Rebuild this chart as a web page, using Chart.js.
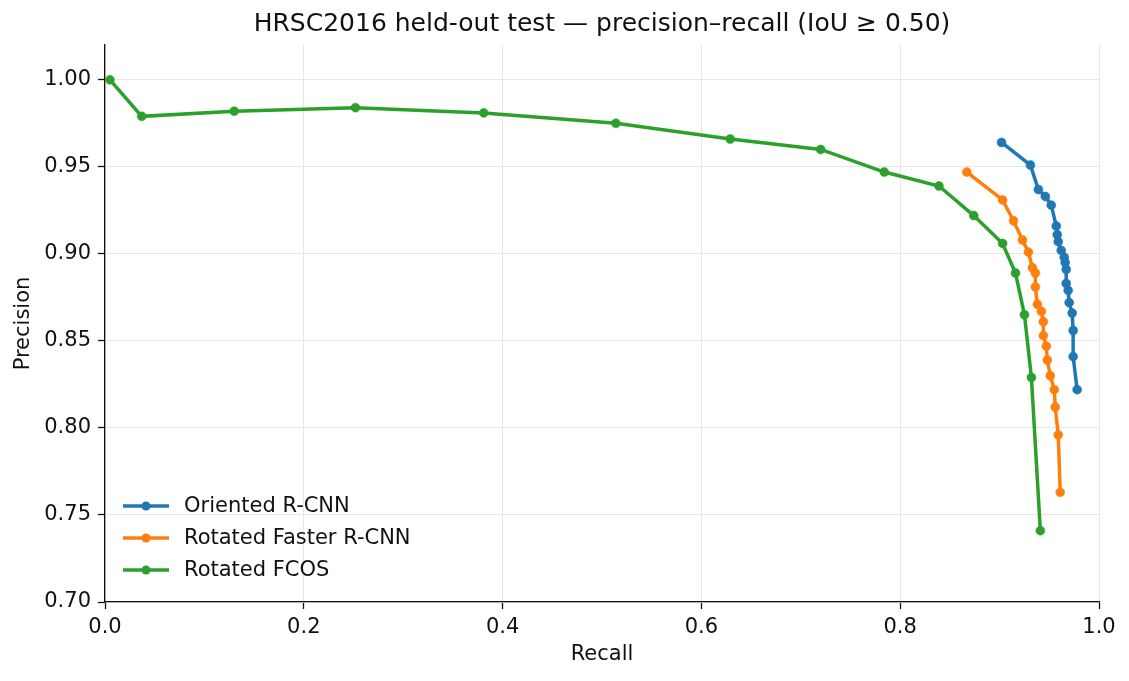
<!DOCTYPE html>
<html>
<head>
<meta charset="utf-8">
<script src="https://cdn.jsdelivr.net/npm/chart.js@4.4.1/dist/chart.umd.min.js"></script>
<style>
  html, body { margin: 0; padding: 0; background: #fff; }
  #wrap { width: 1129px; height: 681px; }
</style>
</head>
<body>
<div id="wrap"><canvas id="prChart"></canvas></div>
<script>
// PR curves
const orientedRecall    = [0.902, 0.931, 0.939, 0.946, 0.952, 0.957, 0.958, 0.959, 0.962, 0.965, 0.966, 0.967, 0.967, 0.969, 0.970, 0.973, 0.974, 0.974, 0.978];
const orientedPrecision = [0.964, 0.951, 0.937, 0.933, 0.928, 0.916, 0.911, 0.907, 0.902, 0.898, 0.895, 0.891, 0.883, 0.879, 0.872, 0.866, 0.856, 0.841, 0.822];

const fasterRecall    = [0.867, 0.903, 0.914, 0.923, 0.929, 0.933, 0.936, 0.936, 0.938, 0.942, 0.944, 0.944, 0.947, 0.948, 0.951, 0.955, 0.956, 0.959, 0.961];
const fasterPrecision = [0.947, 0.931, 0.919, 0.908, 0.901, 0.892, 0.889, 0.881, 0.871, 0.867, 0.861, 0.853, 0.847, 0.839, 0.830, 0.822, 0.812, 0.796, 0.763];

const fcosRecall    = [0.005, 0.037, 0.130, 0.252, 0.381, 0.514, 0.629, 0.720, 0.784, 0.839, 0.874, 0.903, 0.916, 0.925, 0.932, 0.941];
const fcosPrecision = [1.000, 0.979, 0.982, 0.984, 0.981, 0.975, 0.966, 0.960, 0.947, 0.939, 0.922, 0.906, 0.889, 0.865, 0.829, 0.741];

const seriesNames = ['Oriented R-CNN', 'Rotated Faster R-CNN', 'Rotated FCOS'];
const seriesColors = ['#1f77b4', '#ff7f0e', '#2ca02c'];
const xTicks = [0.0, 0.2, 0.4, 0.6, 0.8, 1.0];
const yTicks = [0.70, 0.75, 0.80, 0.85, 0.90, 0.95, 1.00];

const FONT = 'DejaVu Sans';
const INK = '#111111';

function toPoints(xs, ys) {
    return xs.map((x, i) => ({ x: x, y: ys[i] }));
}

function makeSet(i, xs, ys) {
    return {
        label: seriesNames[i],
        data: toPoints(xs, ys),
        showLine: true,
        borderColor: seriesColors[i],
        backgroundColor: seriesColors[i],
        borderWidth: 3.5,
        pointRadius: 4.5,
        pointHoverRadius: 4.5,
        pointBackgroundColor: seriesColors[i],
        pointBorderColor: seriesColors[i],
        pointBorderWidth: 0.5,
        tension: 0
    };
}

// matplotlib-style legend, inside the axes, lower left, no frame
const innerLegend = {
    id: 'innerLegend',
    afterDatasetsDraw(chart) {
        const ctx = chart.ctx;
        const area = chart.chartArea;
        const x0 = area.left + 18;
        let y = area.bottom - 96;
        ctx.save();
        ctx.font = '21px "' + FONT + '"';
        ctx.textBaseline = 'middle';
        ctx.textAlign = 'left';
        chart.data.datasets.forEach(ds => {
            ctx.strokeStyle = ds.borderColor;
            ctx.lineWidth = 3.5;
            ctx.beginPath();
            ctx.moveTo(x0, y);
            ctx.lineTo(x0 + 46, y);
            ctx.stroke();
            ctx.fillStyle = ds.borderColor;
            ctx.beginPath();
            ctx.arc(x0 + 23, y, 4.5, 0, Math.PI * 2);
            ctx.fill();
            ctx.fillStyle = INK;
            ctx.fillText(ds.label, x0 + 61, y + 1);
            y += 32;
        });
        ctx.restore();
    }
};

const ctx = document.getElementById('prChart').getContext('2d');
const chart = new Chart(ctx, {
    type: 'scatter',
    data: {
        datasets: [
            makeSet(0, orientedRecall, orientedPrecision),
            makeSet(1, fasterRecall, fasterPrecision),
            makeSet(2, fcosRecall, fcosPrecision)
        ]
    },
    options: {
        responsive: true,
        maintainAspectRatio: false,
        animation: false,
        devicePixelRatio: 1,
        layout: { padding: { left: 0, right: 30, top: 0, bottom: 0 } },
        plugins: {
            legend: { display: false },
            tooltip: { enabled: false },
            title: {
                display: true,
                fullSize: false,
                text: 'HRSC2016 held-out test \u2014 precision\u2013recall (IoU \u2265 0.50)',
                color: INK,
                font: { family: FONT, size: 25, weight: 'normal', lineHeight: 1.2 },
                padding: { top: 9, bottom: 6 }
            }
        },
        scales: {
            x: {
                type: 'linear',
                min: 0,
                max: 1,
                afterBuildTicks: s => { s.ticks = xTicks.map(v => ({ value: v })); },
                afterFit: s => { s.height = 79; },
                ticks: {
                    color: INK,
                    padding: 6,
                    font: { family: FONT, size: 21 },
                    callback: v => Number(v).toFixed(1)
                },
                grid: {
                    color: '#e6e6e6',
                    lineWidth: 1,
                    tickColor: INK,
                    tickLength: 7,
                    tickWidth: 1.3
                },
                border: { display: true, color: INK, width: 1.3 },
                title: {
                    display: true,
                    text: 'Recall',
                    color: INK,
                    font: { family: FONT, size: 21, lineHeight: 1.2 },
                    padding: { top: 4, bottom: 14 }
                }
            },
            y: {
                type: 'linear',
                min: 0.70,
                max: 1.02,
                afterBuildTicks: s => { s.ticks = yTicks.map(v => ({ value: v })); },
                afterFit: s => { s.width = 105; },
                ticks: {
                    color: INK,
                    padding: 7,
                    font: { family: FONT, size: 21 },
                    callback: v => Number(v).toFixed(2)
                },
                grid: {
                    color: '#e6e6e6',
                    lineWidth: 1,
                    tickColor: INK,
                    tickLength: 7,
                    tickWidth: 1.3
                },
                border: { display: true, color: INK, width: 1.3 },
                title: {
                    display: true,
                    text: 'Precision',
                    color: INK,
                    font: { family: FONT, size: 21, lineHeight: 1.2 },
                    padding: { top: 11, bottom: 4 }
                }
            }
        }
    },
    plugins: [innerLegend]
});
</script>
</body>
</html>
